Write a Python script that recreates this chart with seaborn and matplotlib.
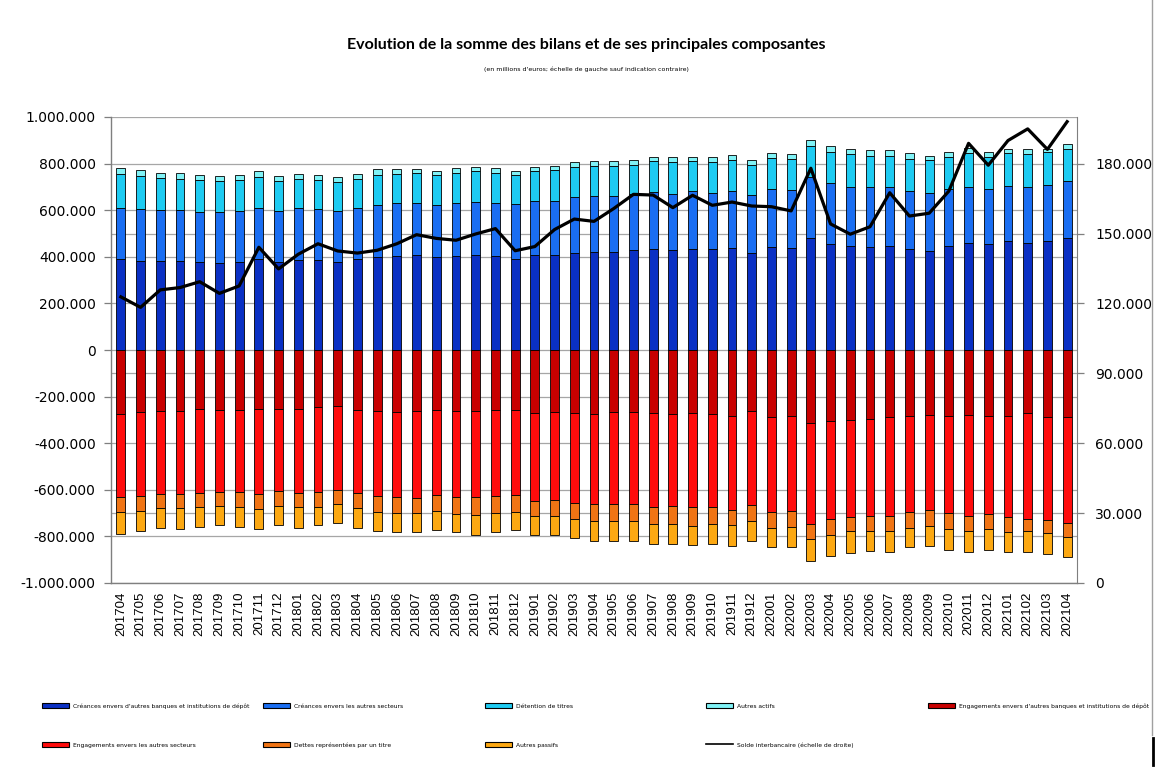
import numpy as np
import matplotlib
matplotlib.use("Agg")
import matplotlib.pyplot as plt
import seaborn as sns
from matplotlib.ticker import FuncFormatter
from matplotlib.patches import Patch
from matplotlib.lines import Line2D

mois = ['201704', '201705', '201706', '201707', '201708', '201709', '201710', '201711', '201712',
        '201801', '201802', '201803', '201804', '201805', '201806', '201807', '201808', '201809',
        '201810', '201811', '201812', '201901', '201902', '201903', '201904', '201905', '201906',
        '201907', '201908', '201909', '201910', '201911', '201912', '202001', '202002', '202003',
        '202004', '202005', '202006', '202007', '202008', '202009', '202010', '202011', '202012',
        '202101', '202102', '202103', '202104']

# actif (millions d'euros)
creances_banques = [391000, 382000, 382000, 382000, 376000, 372000, 376000, 392000, 376000, 388000,
                    388000, 376000, 392000, 398000, 402000, 406000, 398000, 402000, 408000, 402000,
                    392000, 408000, 408000, 418000, 422000, 422000, 428000, 432000, 428000, 432000,
                    432000, 436000, 416000, 442000, 436000, 482000, 456000, 446000, 442000, 446000,
                    432000, 426000, 446000, 461000, 456000, 466000, 461000, 466000, 482000]
creances_secteurs = [220000, 223000, 217000, 217000, 215000, 219000, 219000, 219000, 221000, 223000,
                     217000, 219000, 219000, 223000, 229000, 225000, 223000, 229000, 229000, 229000,
                     233000, 233000, 233000, 237000, 238000, 238000, 240000, 245000, 240000, 250000,
                     242000, 245000, 249000, 249000, 251000, 262000, 259000, 252000, 258000, 254000,
                     249000, 249000, 245000, 237000, 235000, 239000, 237000, 244000, 243000]
detention_titres = [143000, 140000, 141000, 136000, 137000, 134000, 135000, 133000, 128000, 123000,
                    125000, 125000, 123000, 129000, 123000, 127000, 129000, 129000, 130000, 129000,
                    125000, 127000, 130000, 130000, 130000, 130000, 126000, 133000, 139000, 128000,
                    133000, 133000, 129000, 133000, 133000, 132000, 135000, 142000, 134000, 134000,
                    139000, 139000, 137000, 146000, 139000, 139000, 142000, 138000, 139000]
autres_actifs = [26000, 26000, 21000, 25000, 22000, 20000, 20000, 23000, 20000, 21000,
                 20000, 21000, 21000, 25000, 21000, 17000, 17000, 20000, 18000, 20000,
                 17000, 17000, 19000, 22000, 20000, 20000, 21000, 17000, 23000, 20000,
                 23000, 22000, 21000, 22000, 20000, 24000, 24000, 24000, 26000, 26000,
                 24000, 20000, 20000, 22000, 18000, 20000, 24000, 16000, 22000]

# passif (millions d'euros)
engagements_banques = [-275000, -265000, -260000, -260000, -252000, -256000, -256000, -252000, -252000, -252000,
                       -246000, -242000, -256000, -260000, -265000, -260000, -256000, -260000, -260000, -256000,
                       -256000, -269000, -265000, -269000, -275000, -265000, -265000, -269000, -275000, -269000,
                       -275000, -282000, -260000, -286000, -282000, -312000, -305000, -302000, -296000, -286000,
                       -282000, -278000, -282000, -278000, -282000, -282000, -269000, -286000, -286000]
engagements_secteurs = [-357000, -362000, -358000, -358000, -362000, -353000, -355000, -366000, -353000, -363000,
                        -363000, -357000, -358000, -367000, -367000, -377000, -368000, -372000, -372000, -372000,
                        -368000, -378000, -380000, -386000, -385000, -395000, -395000, -405000, -393000, -405000,
                        -399000, -403000, -404000, -408000, -408000, -433000, -420000, -413000, -415000, -425000,
                        -412000, -407000, -416000, -433000, -422000, -436000, -456000, -444000, -458000]
dettes_titre = [-65000, -63000, -62000, -62000, -61000, -61000, -63000, -66000, -63000, -59000,
                -65000, -63000, -66000, -67000, -66000, -61000, -66000, -72000, -76000, -70000,
                -70000, -67000, -69000, -69000, -74000, -74000, -74000, -74000, -80000, -80000,
                -74000, -66000, -70000, -69000, -68000, -68000, -68000, -63000, -67000, -67000,
                -69000, -69000, -70000, -67000, -64000, -65000, -53000, -57000, -59000]
autres_passifs = [-91000, -88000, -83000, -88000, -83000, -83000, -84000, -84000, -85000, -89000,
                  -79000, -81000, -83000, -84000, -85000, -85000, -84000, -79000, -85000, -85000,
                  -80000, -79000, -79000, -84000, -84000, -84000, -84000, -85000, -85000, -84000,
                  -85000, -92000, -84000, -84000, -89000, -94000, -90000, -95000, -85000, -89000,
                  -84000, -89000, -89000, -89000, -89000, -84000, -89000, -90000, -84000]

# solde interbancaire (echelle de droite)
solde = [122800, 118300, 125800, 126800, 129300, 124300, 127500, 144100, 134800, 141100,
         145600, 142500, 141600, 142800, 145600, 149500, 147900, 147100, 149800, 152100,
         142600, 144400, 151700, 156200, 155200, 160700, 166800, 166500, 161100, 166400,
         162100, 163500, 161800, 161500, 159700, 178000, 154100, 149700, 152900, 167500,
         157500, 158700, 168200, 188700, 179300, 189900, 194900, 186100, 198000]

noms = ["Créances envers d'autres banques et institutions de dépôt",
        "Créances envers les autres secteurs",
        "Détention de titres",
        "Autres actifs",
        "Engagements envers d'autres banques et institutions de dépôt",
        "Engagements envers les autres secteurs",
        "Dettes représentées par un titre",
        "Autres passifs",
        "Solde interbancaire (échelle de droite)"]
couleurs = ['#0a30c4', '#1a6ef2', '#1ecbf2', '#80f2f6', '#c80000', '#ff0c0c', '#f07414', '#fca812']


def empiler(ax, series, cols):
    base = np.zeros(len(mois))
    for vals, col in zip(series, cols):
        sns.barplot(x=mois, y=vals, bottom=base, color=col, saturation=1, width=0.45,
                    edgecolor='black', linewidth=0.6, errorbar=None, zorder=2, ax=ax)
        base = base + np.array(vals)


def milliers(v, pos):
    return "{:,}".format(int(round(v))).replace(",", ".")


fig = plt.figure(figsize=(11.71, 7.8), dpi=100)
ax = fig.add_axes([111 / 1171, 1 - 583 / 780, 966 / 1171, 466 / 780])

empiler(ax, [creances_banques, creances_secteurs, detention_titres, autres_actifs], couleurs[:4])
empiler(ax, [engagements_banques, engagements_secteurs, dettes_titre, autres_passifs], couleurs[4:])

ax.set_ylim(-1000000, 1000000)
ax.set_yticks(np.arange(-1000000, 1000001, 200000))
ax.set_yticks([-700000, -100000, 500000], minor=True)
ax.yaxis.set_major_formatter(FuncFormatter(milliers))
ax.grid(axis='y', which='both', color='#a6a6a6', linewidth=0.9)
ax.set_axisbelow(True)
ax.tick_params(axis='y', which='major', direction='out', length=5, width=0.9,
               color='#7f7f7f', pad=6, labelsize=10)
ax.tick_params(axis='y', which='minor', length=0)
ax.tick_params(axis='x', length=0, pad=6)
for lab in ax.get_xticklabels():
    lab.set_rotation(90)
    lab.set_family('Liberation Sans')
    lab.set_fontsize(9.5)
ax.set_xlabel('')
ax.set_ylabel('')
for s in ['top', 'right']:
    ax.spines[s].set_visible(False)
for s in ['left', 'bottom']:
    ax.spines[s].set_color('#7f7f7f')
    ax.spines[s].set_linewidth(1.0)

ax2 = ax.twinx()
sns.lineplot(x=np.arange(len(mois)), y=solde, color='black', linewidth=2.3, ax=ax2)
ax2.set_ylim(0, 200000)
ax2.set_yticks(np.arange(0, 180001, 30000))
ax2.yaxis.set_major_formatter(FuncFormatter(milliers))
ax2.tick_params(axis='y', direction='out', length=5, width=0.9, color='#7f7f7f', pad=8, labelsize=10)
for s in ['top', 'left', 'bottom']:
    ax2.spines[s].set_visible(False)
ax2.spines['right'].set_color('#7f7f7f')
ax2.set_ylabel('')
ax.set_xlim(-0.5, len(mois) - 0.5)

fig.text(0.5005, 1 - 45 / 780, "Evolution de la somme des bilans et de ses principales composantes",
         ha='center', va='center', fontsize=11.5, fontweight='bold', family='Lato')
fig.text(0.5005, 1 - 69 / 780, "(en millions d'euros; échelle de gauche sauf indication contraire)",
         ha='center', va='center', fontsize=4.5)

# legende : 5 colonnes, remplies ligne par ligne comme dans le tableur
poignees = [Patch(facecolor=c, edgecolor='black', linewidth=0.8) for c in couleurs]
poignees.append(Line2D([0], [0], color='black', linewidth=1.2))
colonnes = [[0, 5], [1, 6], [2, 7], [3, 8], [4]]
x_col = [42, 263, 485, 706, 928]
for idx, x in zip(colonnes, x_col):
    leg = fig.legend([poignees[i] for i in idx], [noms[i] for i in idx],
                     loc='upper left', bbox_to_anchor=(x / 1171, 1 - 703 / 780),
                     frameon=False, fontsize=4.3, handlelength=4.6, handleheight=0.9,
                     handletextpad=0.6, labelspacing=5.6, borderpad=0, borderaxespad=0)

fig.add_artist(Line2D([1152 / 1171] * 2, [1, 1 - 735 / 780], color='#a0a0a0', linewidth=1))
fig.add_artist(Line2D([1153 / 1171] * 2, [1 - 738 / 780, 1 - 765 / 780], color='black', linewidth=2))

fig.savefig('out.png', dpi=100)
